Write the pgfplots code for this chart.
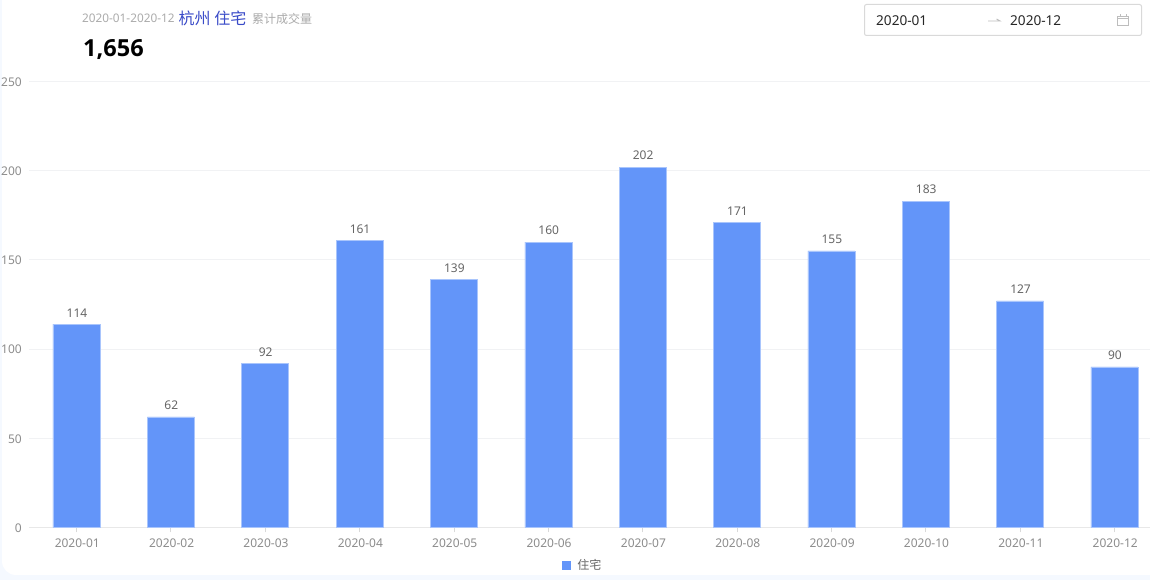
\documentclass[border=0pt]{standalone}
\usepackage{pgfplots}
\pgfplotsset{compat=1.18}
\usepackage{fontspec}
\setmainfont{Noto Sans}
\newfontfamily\cjk{Noto Sans CJK SC}
\newfontfamily\boldnum{Open Sans}[BoldFont={Open Sans Bold}]
\definecolor{barc}{HTML}{6395F9}
\definecolor{gridc}{HTML}{F1F2F4}
\definecolor{axisc}{HTML}{E8E8E8}
\definecolor{tickc}{HTML}{8C8C8C}
\definecolor{labc}{HTML}{666666}
\definecolor{bgc}{HTML}{F5F9FF}
\definecolor{subc}{HTML}{ABABAB}
\definecolor{bluec}{HTML}{3A4BC8}
\definecolor{boxc}{HTML}{D9D9D9}
\definecolor{iconc}{HTML}{BDBDBD}
\newcommand{\px}[1]{\fontsize{#1}{#1}\selectfont}
\pgfplotstableread{
idx value
0 114
1 62
2 92
3 161
4 139
5 160
6 202
7 171
8 155
9 183
10 127
11 90
}\datatable
\begin{document}
\begin{tikzpicture}[x=1pt,y=-1pt,yshift=580pt]
\useasboundingbox (0,0) rectangle (1150,580);
\fill[bgc] (0,0) rectangle (1150,580);
\fill[white,rounded corners=14pt] (2,-30) rectangle (1180,575);
\begin{axis}[
  at={(29.3pt,-527.5pt)},anchor=south west,
  scale only axis,width=1120.7pt,height=446pt,
  xmin=-0.5,xmax=11.377,ymin=0,ymax=250,
  ytick={0,50,100,150,200,250},
  xtick={0,...,11},
  xticklabels={2020-01,2020-02,2020-03,2020-04,2020-05,2020-06,2020-07,2020-08,2020-09,2020-10,2020-11,2020-12},
  axis lines=left,
  x axis line style={draw=axisc,line width=1.6pt,-},
  y axis line style={draw=none,-},
  ymajorgrids,grid style={gridc,line width=1.1pt},
  xtick style={draw=boxc,line width=0.8pt},
  ytick style={draw=none},
  major tick length=5pt,
  xtick align=outside,
  ticklabel style={text=tickc,font=\px{12}},
  xticklabel style={yshift=-3pt,xshift=0.8pt},
  yticklabel style={xshift=-1.5pt,yshift=-0.5pt},
  /pgf/number format/assume math mode=true,
  clip=false,
  legend style={at={(rel axis cs:0.4957,-0.085)},anchor=center,draw=none,fill=none,
    font=\cjk\px{12},text=labc,legend cell align=left,inner sep=0pt,
    nodes={inner xsep=6pt}},
  legend image code/.code={\fill[barc,draw=none] (-2pt,-4.5pt) rectangle (7pt,4.5pt);},
  nodes near coords,
  every node near coord/.append style={font=\px{12},text=labc,yshift=3.5pt,xshift=0.5pt},
]
\addplot[ybar,bar width=47pt,fill=barc,draw=barc!55!white,line width=0.4pt,forget plot=false]
  table[x=idx,y=value]{\datatable};
\addlegendentry{住宅}
\end{axis}
\node[anchor=west,inner sep=0pt,text=subc,font=\px{11.8}] at (82,18.5) {2020-01-2020-12};
\node[anchor=west,inner sep=0pt,text=bluec,font=\cjk\px{16}] at (178.5,18) {杭州 住宅};
\node[anchor=west,inner sep=0pt,text=subc,font=\cjk\px{12}] at (252,19) {累计成交量};
\node[anchor=west,inner sep=0pt,text=black,font=\boldnum\bfseries\px{23.5}] at (83,49.5) {1,656};
\draw[boxc,line width=1pt,rounded corners=2pt] (864.5,4.5) rectangle (1141.5,35.5);
\node[anchor=west,inner sep=0pt,text=black!85,font=\px{13.6}] at (876,20.5) {2020-01};
\node[anchor=west,inner sep=0pt,text=black!85,font=\px{13.6}] at (1010,20.5) {2020-12};
\draw[iconc,line width=0.9pt] (988,21) -- (1000,21) -- (996.5,19);
\draw[iconc,line width=0.9pt] (1117.5,16) rectangle (1128.5,25.5);
\draw[iconc,line width=0.9pt] (1117.5,18.5) -- (1128.5,18.5);
\draw[iconc,line width=0.9pt] (1120,14.5) -- (1120,16.5) (1126,14.5) -- (1126,16.5);
\end{tikzpicture}
\end{document}
